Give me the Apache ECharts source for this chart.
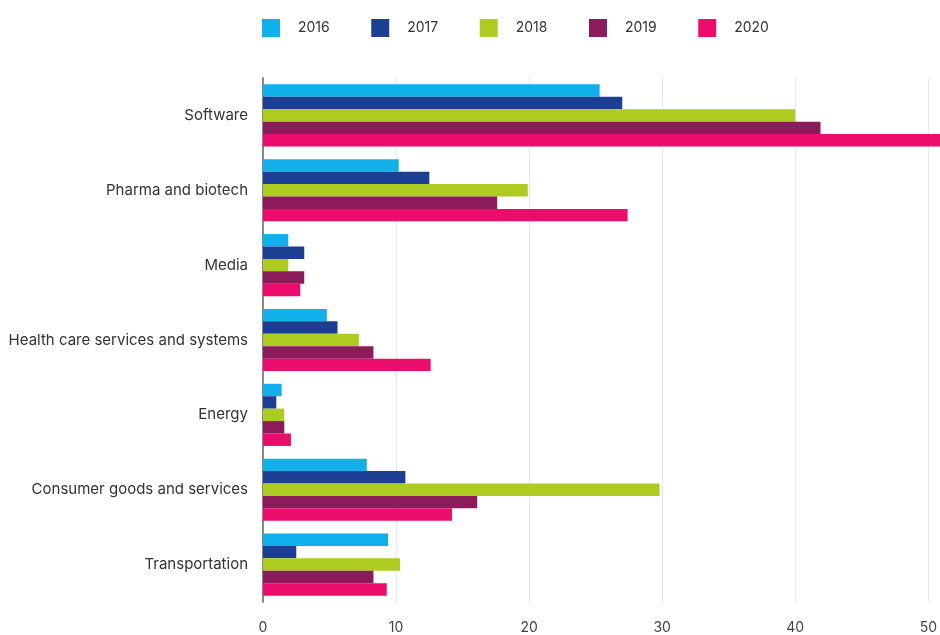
<!DOCTYPE html>
<html>
<head>
<meta charset="utf-8">
<script src="https://cdn.jsdelivr.net/npm/echarts@6/dist/echarts.min.js"></script>
<style>html,body{margin:0;padding:0;background:#fff}#c{width:940px;height:635px}</style>
</head>
<body>
<div id="c"></div>
<script>
var categories = ['Software','Pharma and biotech','Media','Health care services and systems','Energy','Consumer goods and services','Transportation'];
var years = ['2016','2017','2018','2019','2020'];
var v2016 = [25.3, 10.2, 1.9, 4.8, 1.4, 7.8, 9.4];
var v2017 = [27.0, 12.5, 3.1, 5.6, 1.0, 10.7, 2.5];
var v2018 = [40.0, 19.9, 1.9, 7.2, 1.6, 29.8, 10.3];
var v2019 = [41.9, 17.6, 3.1, 8.3, 1.6, 16.1, 8.3];
var v2020 = [53.0, 27.4, 2.8, 12.6, 2.1, 14.2, 9.3];
var xTicks = [0, 10, 20, 30, 40, 50];
var colors = ['#10b1ea', '#1c3f94', '#aecb22', '#8c1b5b', '#ec0c6c'];

var values = [v2016, v2017, v2018, v2019, v2020];
var font = 'Inter, Liberation Sans, Arial, sans-serif';
var chart = echarts.init(document.getElementById('c'), null, {renderer: 'canvas'});
chart.setOption({
  animation: false,
  color: colors,
  textStyle: {fontFamily: font},
  legend: {
    data: years,
    left: 262, top: 19, padding: 0,
    icon: 'rect',
    itemWidth: 18, itemHeight: 18,
    itemGap: 41.5,
    textStyle: {fontSize: 14, color: '#333', padding: [0, 0, 0, 13], fontFamily: font}
  },
  grid: {left: 263, right: 6, top: 78, bottom: 32, containLabel: false},
  xAxis: {
    type: 'value', min: xTicks[0], max: xTicks[xTicks.length - 1], interval: 10,
    axisLine: {show: false}, axisTick: {show: false},
    splitLine: {show: true, lineStyle: {color: '#e8e8e8', width: 1}},
    axisLabel: {margin: 19, fontSize: 14, color: '#444', fontFamily: font}
  },
  yAxis: {
    type: 'category', data: categories, inverse: true,
    axisLine: {show: true, lineStyle: {color: '#888', width: 2}},
    axisTick: {show: false},
    axisLabel: {margin: 15, fontSize: 15, color: '#333', fontFamily: font, padding: [4, 0, 0, 0]}
  },
  series: years.map(function (y, i) {
    return {
      name: y, type: 'bar', data: values[i],
      barGap: '0%', barCategoryGap: '17%',
      clip: false
    };
  })
});
</script>
</body>
</html>
